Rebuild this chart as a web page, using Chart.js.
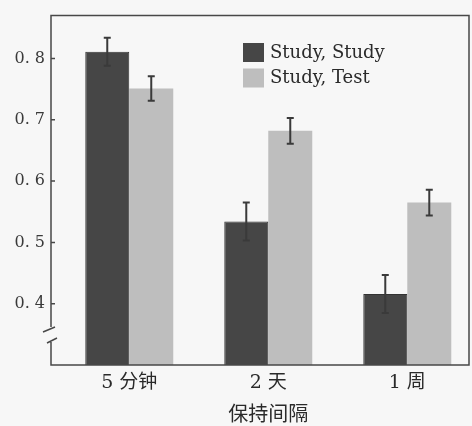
<!DOCTYPE html>
<html>
<head>
<meta charset="utf-8">
<script src="https://cdn.jsdelivr.net/npm/chart.js@4/dist/chart.umd.min.js"></script>
<style>
    html, body { margin: 0; padding: 0; background: #f7f7f7; }
    #wrap { width: 472px; height: 426px; }
</style>
</head>
<body>
<div id="wrap"><canvas id="myChart" width="472" height="426"></canvas></div>
<script>
    "use strict";
    /* data */
    var categories = ['5 分钟', '2 天', '1 周'];
    var seriesNames = ['Study, Study', 'Study, Test'];
    var studyStudy = [0.811, 0.534, 0.416];
    var studyTest = [0.751, 0.682, 0.565];
    var errStudyStudy = [0.023, 0.031, 0.031];
    var errStudyTest = [0.020, 0.021, 0.021];
    var yTicks = [0.4, 0.5, 0.6, 0.7, 0.8];
    var xTitle = '保持间隔';

    var colorSet = ['#464646', '#bebebe'];
    var inkColor = '#2a2a2a';
    var serif = '"DejaVu Serif", "Liberation Serif", serif';
    var cjk = '"DejaVu Serif", "Noto Sans CJK SC", serif';

    function toPoints(values) {
        var pts = [];
        var i;
        for (i = 0; i < values.length; i++) {
            pts.push({x: i, y: values[i]});
        }
        return pts;
    }

    /* error bars, drawn through the y scale */
    var errorBars = {
        id: 'errorBars',
        afterDatasetsDraw: function (chart) {
            var ctx = chart.ctx;
            var yScale = chart.scales.y;
            var errs = [errStudyStudy, errStudyTest];
            ctx.save();
            ctx.strokeStyle = '#3a3a3a';
            ctx.lineWidth = 2;
            chart.data.datasets.forEach(function (ds, dsIdx) {
                var meta = chart.getDatasetMeta(dsIdx);
                meta.data.forEach(function (bar, i) {
                    var v = ds.data[i].y;
                    var e = errs[dsIdx][i];
                    var top = yScale.getPixelForValue(v + e);
                    var bot = yScale.getPixelForValue(v - e);
                    ctx.beginPath();
                    ctx.moveTo(bar.x, top);
                    ctx.lineTo(bar.x, bot);
                    ctx.moveTo(bar.x - 3.5, top);
                    ctx.lineTo(bar.x + 3.5, top);
                    ctx.moveTo(bar.x - 3.5, bot);
                    ctx.lineTo(bar.x + 3.5, bot);
                    ctx.stroke();
                });
            });
            ctx.restore();
        }
    };

    /* box round the plot, with the axis break on the left */
    var frame = {
        id: 'frame',
        afterDraw: function (chart) {
            var ctx = chart.ctx;
            var a = chart.chartArea;
            var L = a.left, R = a.right, T = a.top, B = a.bottom;
            ctx.save();
            ctx.strokeStyle = '#484848';
            ctx.lineWidth = 1.5;
            ctx.beginPath();
            ctx.moveTo(L, B - 38);
            ctx.lineTo(L, T);
            ctx.lineTo(R, T);
            ctx.lineTo(R, B);
            ctx.lineTo(L, B);
            ctx.lineTo(L, B - 23);
            ctx.moveTo(L - 8, B - 33);
            ctx.lineTo(L + 4, B - 38);
            ctx.moveTo(L - 4, B - 22);
            ctx.lineTo(L + 6, B - 27);
            /* short inward ticks */
            yTicks.forEach(function (v) {
                var py = chart.scales.y.getPixelForValue(v);
                ctx.moveTo(L, py);
                ctx.lineTo(L + 4, py);
            });
            ctx.stroke();

            /* x axis title, under the middle group */
            ctx.fillStyle = inkColor;
            ctx.font = '20px "Noto Sans CJK SC", sans-serif';
            ctx.textAlign = 'center';
            ctx.textBaseline = 'middle';
            ctx.fillText(xTitle, chart.scales.x.getPixelForValue(1), 413);
            ctx.restore();
        }
    };

    /* legend inside the plot, top right */
    var boxLegend = {
        id: 'boxLegend',
        afterDraw: function (chart) {
            var ctx = chart.ctx;
            var x = 243, y = 43;
            ctx.save();
            ctx.font = '18px ' + serif;
            ctx.textBaseline = 'middle';
            ctx.textAlign = 'left';
            chart.data.datasets.forEach(function (ds, i) {
                var by = y + i * 25.5;
                ctx.fillStyle = ds.backgroundColor;
                ctx.fillRect(x, by, 21, 19);
                ctx.fillStyle = inkColor;
                ctx.fillText(ds.label, x + 27, by + 10);
            });
            ctx.restore();
        }
    };

    var ctx = document.getElementById('myChart');
    var chart = new Chart(ctx, {
        type: 'bar',
        data: {
            datasets: [{
                label: seriesNames[0],
                data: toPoints(studyStudy),
                backgroundColor: colorSet[0],
                borderColor: '#333333',
                borderWidth: 1,
                base: 0.3
            }, {
                label: seriesNames[1],
                data: toPoints(studyTest),
                backgroundColor: colorSet[1],
                base: 0.3
            }]
        },
        options: {
            responsive: false,
            animation: false,
            devicePixelRatio: 1,
            categoryPercentage: 0.633,
            barPercentage: 1.0,
            layout: {padding: {top: 8, right: 3, left: 0, bottom: 0}},
            plugins: {
                legend: {display: false},
                tooltip: {enabled: false}
            },
            scales: {
                x: {
                    type: 'linear',
                    offset: false,
                    min: -0.563,
                    max: 2.444,
                    grid: {display: false, drawTicks: false},
                    border: {display: false},
                    afterBuildTicks: function (axis) {
                        axis.ticks = categories.map(function (c, i) { return {value: i}; });
                    },
                    afterFit: function (axis) { axis.height = 61; },
                    ticks: {
                        padding: 7,
                        maxRotation: 0,
                        color: inkColor,
                        font: {family: cjk, size: 19},
                        callback: function (v) { return categories[v]; }
                    }
                },
                y: {
                    min: 0.3,
                    max: 0.87,
                    grid: {display: false, drawTicks: false},
                    border: {display: false},
                    afterBuildTicks: function (axis) {
                        axis.ticks = yTicks.map(function (v) { return {value: v}; });
                    },
                    afterFit: function (axis) { axis.width = 51; },
                    ticks: {
                        padding: 6,
                        color: '#3a3a3a',
                        font: {family: serif, size: 16},
                        callback: function (v) { return v.toFixed(1).replace('.', '. '); }
                    }
                }
            }
        },
        plugins: [errorBars, frame, boxLegend]
    });
</script>
</body>
</html>
